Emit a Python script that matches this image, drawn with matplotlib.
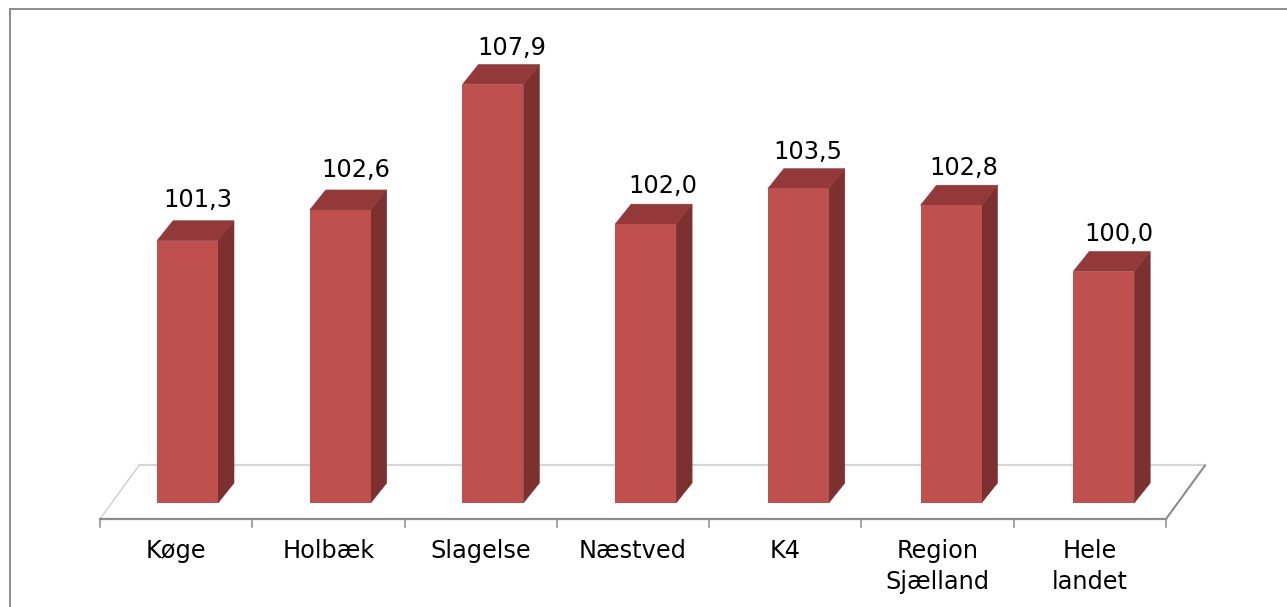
""" Bar chart with a fake 3D look, bars go through ax.bar and the data scale """
import numpy as np
import matplotlib
matplotlib.use('Agg')
from matplotlib import pyplot as plt
from matplotlib.patches import Polygon, Rectangle

plt.rc('font', family='DejaVu Sans', size=17.3)

categories = ['Køge', 'Holbæk', 'Slagelse', 'Næstved', 'K4',
              'Region\nSjælland', 'Hele\nlandet']
values = [101.3, 102.6, 107.9, 102.0, 103.5, 102.8, 100.0]
value_labels = ['101,3', '102,6', '107,9', '102,0', '103,5', '102,8', '100,0']

W, H = 1287, 607
PX_X = 152.7   # pixels per category
PX_Y = 23.67   # pixels per value unit
AXIS_MIN = 90.22

# Data limits chosen so one category and one unit have the sizes above
x0 = -187.5 / PX_X
y_bottom = AXIS_MIN - (H - 503) / PX_Y
y_top = AXIS_MIN + 503 / PX_Y

DX = 16 / PX_X    # depth of the bars
DY = 20 / PX_Y
BAR_W = 61 / PX_X

# the labels are not placed evenly over the bars in the original (pixels)
label_dx = [10, 16, 19, 17, 10, 13, 15]
label_dy = [41, 40, 37, 38, 37, 37, 38]

fig = plt.figure(figsize=(W / 100, H / 100), dpi=100)
ax = fig.add_axes([0, 0, 1, 1])
ax.set_xlim(x0, x0 + W / PX_X)
ax.set_ylim(y_bottom, y_top)
ax.axis('off')


def px(x, y):
    """ Pixel position of the picture -> data position """
    return x0 + x / PX_X, y_top - y / PX_Y


# Frame of the chart, right and bottom sides run off the picture
ax.add_patch(Rectangle((9.5 / W, -0.1), 1.1, 1.1 - 9 / H, transform=ax.transAxes,
                       fc='white', ec='#8c8c8c', lw=1.4, clip_on=True))

# Floor
fl_l, fl_r, fl_front, fl_back, fl_d = 100, 1166, 519, 465.5, 39
floor = [px(fl_l, fl_front), px(fl_l + fl_d, fl_back),
         px(fl_r + fl_d, fl_back), px(fl_r, fl_front)]
ax.add_patch(Polygon(floor, closed=True, fc='white', ec='none'))
for (a, b), col, lw in [((0, 1), '#cfcfcf', 1.0), ((1, 2), '#d6d6d6', 1.6),
                        ((2, 3), '#8c8c8c', 1.5), ((3, 0), '#8c8c8c', 1.6)]:
    ax.plot([floor[a][0], floor[b][0]], [floor[a][1], floor[b][1]], color=col, lw=lw)

n = len(categories)
slot = (fl_r - fl_l) / n
for i in range(n + 1):
    tx, ty0 = px(fl_l + i * slot, fl_front)
    ax.plot([tx, tx], [ty0, px(0, fl_front + 8)[1]], color='#8c8c8c', lw=1.1)

xs = np.arange(n)
heights = np.array(values) - AXIS_MIN

for x, val in zip(xs, values):
    r = x + BAR_W / 2
    l = x - BAR_W / 2
    ax.add_patch(Polygon([(r, AXIS_MIN), (r + DX, AXIS_MIN + DY),
                          (r + DX, val + DY), (r, val)],
                         closed=True, fc='#7c3030', ec='#7c3030', lw=0.4, zorder=3))
    ax.add_patch(Polygon([(l, val), (l + DX, val + DY),
                          (r + DX, val + DY), (r, val)],
                         closed=True, fc='#93393a', ec='#93393a', lw=0.4, zorder=3))

ax.bar(xs, heights, width=BAR_W, bottom=AXIS_MIN, color='#c0504d', lw=0, zorder=4)

for i in range(n):
    ax.text(xs[i] + label_dx[i] / PX_X, values[i] + label_dy[i] / PX_Y, value_labels[i],
            ha='center', va='center', color='black', zorder=5)
    ax.text(px(fl_l + (i + 0.5) * slot, 0)[0], px(0, 539)[1], categories[i], ha='center',
            va='top', color='black', linespacing=1.38)

fig.savefig('out.png', dpi=100)
